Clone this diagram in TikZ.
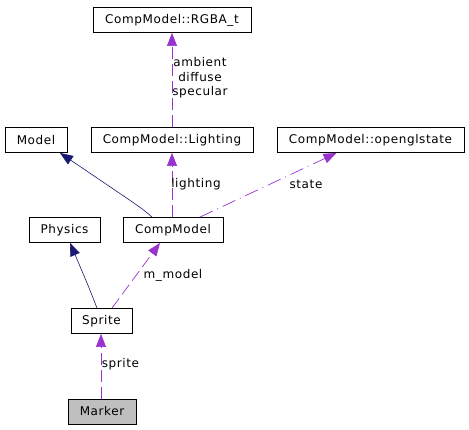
\documentclass[tikz,border=0pt]{standalone}
\usepackage{fontspec}
\setmainfont{DejaVu Sans}[LetterSpace=5]
\usetikzlibrary{arrows.meta}
\definecolor{edgepurple}{RGB}{154,50,205}
\definecolor{edgenavy}{RGB}{25,25,112}
\definecolor{markergray}{RGB}{191,191,191}
\tikzset{
  cls/.style={draw=black, line width=0.9pt, rectangle, inner sep=0pt, minimum height=25pt, font=\fontsize{12}{14}\selectfont, text=black},
  lbl/.style={inner sep=0pt, font=\fontsize{12}{14.5}\selectfont, text=black, align=center},
  tip/.style={-{Triangle[length=13pt,width=10pt]}},
  inh/.style={draw=edgenavy, line width=0.6pt, tip, edgenavy},
  usedash/.style={draw=edgepurple, line width=0.7pt, dash pattern=on 12pt off 5pt, tip, edgepurple},
  usedot/.style={draw=edgepurple, line width=0.7pt, dash pattern=on 14pt off 5pt on 1pt off 5pt, tip, edgepurple}
}
\begin{document}
\begin{tikzpicture}[x=1pt,y=-1pt]
\useasboundingbox (0,0) rectangle (469,429);
\node[cls, minimum width=158pt] (rgba) at (172,20) {CompModel::RGBA\_t};
\node[cls, minimum width=62pt] (model) at (36,140) {Model};
\node[cls, minimum width=162pt] (light) at (172,140) {CompModel::Lighting};
\node[cls, minimum width=187pt] (ogl) at (370.5,140) {CompModel::openglstate};
\node[cls, minimum width=71pt] (phys) at (64.5,230) {Physics};
\node[cls, minimum width=100pt] (cm) at (173,230) {CompModel};
\node[cls, minimum width=61pt] (sprite) at (101.5,321) {Sprite};
\node[cls, minimum width=68pt, fill=markergray] (marker) at (102,411.5) {Marker};

\coordinate (cmModel) at ([xshift=-21pt]cm.north);
\coordinate (modelIn) at ([xshift=24pt]model.south);
\draw[inh] (cmModel) .. controls (143,209) .. (modelIn);

\coordinate (spPhys) at ([xshift=-4.5pt]sprite.north);
\coordinate (physIn) at ([xshift=5.5pt]phys.south);
\draw[inh] (spPhys) .. controls (88,285) .. (physIn);

\coordinate (spCm) at ([xshift=10.5pt]sprite.north);
\coordinate (cmIn) at ([xshift=-13pt]cm.south);
\draw[usedash] (spCm) -- (cmIn);
\node[lbl] (lmmodel) at (173,275) {m\_model};

\coordinate (cmLight) at ([xshift=-1pt]cm.north);
\draw[usedash] (cmLight) -- (light.south);
\node[lbl] (llight) at (196,184) {lighting};

\coordinate (cmOgl) at ([xshift=27pt]cm.north);
\coordinate (oglIn) at ([xshift=-34pt]ogl.south);
\draw[usedot] (cmOgl) -- (oglIn);
\node[lbl] (lstate) at (306,184) {state};

\draw[usedash] (light.north) -- (rgba.south);
\node[lbl] (lrgba) at (200,78) {ambient\\diffuse\\specular};

\coordinate (mkTop) at ([xshift=-1pt]marker.north);
\coordinate (spIn) at ([xshift=-0.5pt]sprite.south);
\draw[usedash] (mkTop) -- (spIn);
\node[lbl] (lsprite) at (120.5,364) {sprite};
\end{tikzpicture}
\end{document}
